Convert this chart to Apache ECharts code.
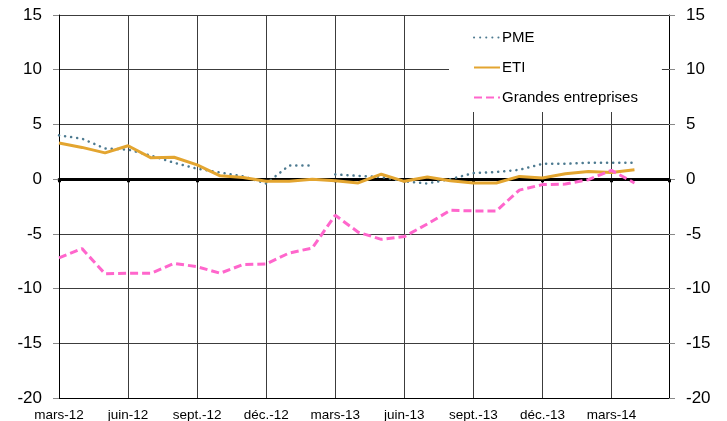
<!DOCTYPE html>
<html>
<head>
<meta charset="utf-8">
<script src="https://cdn.jsdelivr.net/npm/echarts@6/dist/echarts.min.js"></script>
<style>
  html, body { margin: 0; padding: 0; background: #fff; }
  #chart { width: 727px; height: 421px; }
</style>
</head>
<body>
<div id="chart"></div>
<script>
// quarterly tick labels, one every 3 months starting mars-12
const tickLabels = ['mars-12', 'juin-12', 'sept.-12', 'déc.-12', 'mars-13', 'juin-13', 'sept.-13', 'déc.-13', 'mars-14'];

// monthly values, mars-12 .. avril-14
const pme = [4.0, 3.7, 2.8, 2.7, 2.15, 1.5, 0.95, 0.6, 0.25, -0.4, 1.25, 1.25, 0.43, 0.3, 0.2, -0.2, -0.4, 0.0, 0.55, 0.65, 0.85, 1.4, 1.4, 1.5, 1.5, 1.5];
const eti = [3.3, 2.9, 2.4, 3.05, 1.95, 2.0, 1.3, 0.3, 0.15, -0.2, -0.2, 0.0, -0.15, -0.35, 0.45, -0.2, 0.2, -0.15, -0.35, -0.35, 0.25, 0.1, 0.5, 0.7, 0.6, 0.85];
const grandes = [-7.2, -6.35, -8.65, -8.6, -8.6, -7.7, -8.0, -8.6, -7.8, -7.75, -6.75, -6.3, -3.3, -4.85, -5.5, -5.25, -4.1, -2.85, -2.9, -2.9, -1.0, -0.5, -0.45, -0.05, 0.8, -0.35];
// PME line is broken between these two months
const pmeGapAfter = 11;

const toPairs = (arr, gapAfter) => {
  const res = [];
  arr.forEach((v, i) => {
    res.push([i, v]);
    if (i === gapAfter) res.push([i + 0.5, '-']);
  });
  return res;
};

const font = 'Liberation Sans, Arial, sans-serif';
const gridColor = '#3c3c3c';

const chart = echarts.init(document.getElementById('chart'));

const yAxisBase = {
  type: 'value',
  min: -20,
  max: 15,
  interval: 5,
  axisLine: { show: true, onZero: false, lineStyle: { color: '#000', width: 1 } },
  axisTick: { show: true, length: 6, lineStyle: { color: '#888' } },
  axisLabel: { color: '#000', fontSize: 17, fontFamily: font, margin: 17 }
};

const option = {
  animation: false,
  backgroundColor: '#fff',
  grid: { left: 59, right: 58, top: 15, bottom: 23, containLabel: false, outerBoundsMode: 'none' },
  legend: {
    orient: 'vertical',
    left: 449,
    top: 16,
    padding: [14, 24, 7, 24],
    backgroundColor: '#fff',
    itemWidth: 26,
    itemHeight: 14,
    itemGap: 15,
    itemStyle: { opacity: 0 },
    textStyle: { color: '#000', fontSize: 15, fontFamily: font, padding: [0, 0, 0, -3] },
    data: ['PME', 'ETI', 'Grandes entreprises']
  },
  xAxis: [
    {
      type: 'value',
      min: 0,
      max: 26.5,
      interval: 3,
      axisLine: { show: true, onZero: false, lineStyle: { color: '#000', width: 1 } },
      axisTick: { show: false },
      splitLine: { show: true, lineStyle: { color: gridColor, width: 1 } },
      axisLabel: {
        color: '#000',
        fontSize: 13.5,
        fontFamily: font,
        margin: 10,
        showMaxLabel: false,
        formatter: v => (v % 3 === 0 ? tickLabels[v / 3] || '' : '')
      }
    },
    {
      // thick zero line with its tick marks
      type: 'value',
      min: 0,
      max: 26.5,
      interval: 3,
      position: 'bottom',
      axisLine: { show: true, onZero: true, onZeroAxisIndex: 0, lineStyle: { color: '#000', width: 3 } },
      axisTick: { show: true, length: 3, lineStyle: { color: '#000', width: 3 } },
      axisLabel: { show: false },
      splitLine: { show: false }
    }
  ],
  yAxis: [
    Object.assign({}, yAxisBase, {
      position: 'left',
      splitLine: { show: true, lineStyle: { color: gridColor, width: 1 } }
    }),
    Object.assign({}, yAxisBase, {
      position: 'right',
      splitLine: { show: false }
    })
  ],
  series: [
    {
      name: 'PME',
      type: 'line',
      symbol: 'none',
      data: toPairs(pme, pmeGapAfter),
      lineStyle: { color: '#4d7a90', width: 2.5, type: [0.1, 6], cap: 'round' },
      itemStyle: { color: '#4d7a90' }
    },
    {
      name: 'ETI',
      type: 'line',
      symbol: 'none',
      data: toPairs(eti),
      lineStyle: { color: '#e3a530', width: 3 },
      itemStyle: { color: '#e3a530' }
    },
    {
      name: 'Grandes entreprises',
      type: 'line',
      symbol: 'none',
      data: toPairs(grandes),
      lineStyle: { color: '#ff66cc', width: 3, type: [8, 4] },
      itemStyle: { color: '#ff66cc' }
    }
  ]
};

chart.setOption(option);
</script>
</body>
</html>
